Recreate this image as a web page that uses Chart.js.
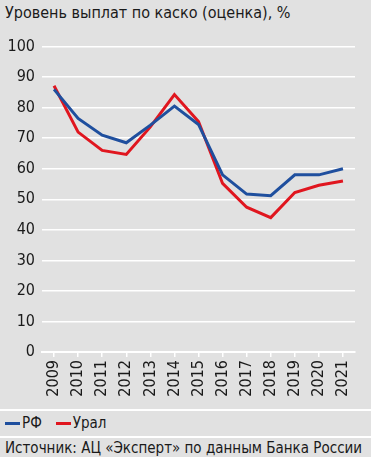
<!DOCTYPE html>
<html>
<head>
<meta charset="utf-8">
<script src="https://cdn.jsdelivr.net/npm/chart.js@4"></script>
<style>
  html, body { margin: 0; padding: 0; }
  body {
    width: 371px; height: 457px; overflow: hidden;
    background: #e1e1e1;
    font-family: 'Liberation Sans Narrow', 'DejaVu Sans Condensed', 'Roboto', sans-serif;
    color: #1a1a1a;
  }
  #title { position: absolute; left: 5px; top: 3px; font-size: 16px; }
  #wrap { position: absolute; left: 0; top: 30px; width: 371px; height: 378px; }
  .sep { position: absolute; left: 0; width: 371px; height: 2px; background: #fff; }
  #legend { position: absolute; left: 5px; top: 414px; font-size: 15px; display: flex; align-items: center; }
  .key { display: inline-block; width: 15px; height: 3px; margin-right: 2px; }
  #source { position: absolute; left: 5px; top: 439px; font-size: 15px; }
</style>
</head>
<body>
<div id="title">Уровень выплат по каско (оценка), %</div>
<div id="wrap"><canvas id="chart"></canvas></div>
<div class="sep" style="top:409px"></div>
<div id="legend">
  <span class="key" style="background:#1f4f9e"></span>РФ
  <span class="key" style="background:#e0161f; margin-left:14px"></span>Урал
</div>
<div class="sep" style="top:436px"></div>
<div id="source">Источник: АЦ «Эксперт» по данным Банка России</div>
<script>
// --- Data ---
const years = ['2009', '2010', '2011', '2012', '2013', '2014', '2015', '2016', '2017', '2018', '2019', '2020', '2021'];
const rfValues = [86, 76.5, 71, 68.5, 74.3, 80.5, 74.5, 58, 51.7, 51.2, 58, 58, 60];
const uralValues = [87.2, 72, 66, 64.7, 73.7, 84.3, 75.5, 55.2, 47.4, 44, 52.2, 54.6, 56];
const yTicks = [0, 10, 20, 30, 40, 50, 60, 70, 80, 90, 100];

const fontFamily = "'Liberation Sans Narrow', 'DejaVu Sans Condensed', 'Roboto', sans-serif";

const ctx = document.getElementById('chart').getContext('2d');
new Chart(ctx, {
    type: 'line',
    data: {
        labels: years,
        datasets: [
            {
                label: 'РФ',
                data: rfValues,
                borderColor: '#1f4f9e',
                borderWidth: 3,
                pointRadius: 0,
                tension: 0
            },
            {
                label: 'Урал',
                data: uralValues,
                borderColor: '#e0161f',
                borderWidth: 3,
                pointRadius: 0,
                tension: 0
            }
        ]
    },
    options: {
        responsive: true,
        maintainAspectRatio: false,
        animation: false,
        layout: { padding: { top: 5, right: 16, left: 0, bottom: 0 } },
        plugins: {
            legend: { display: false },
            tooltip: { enabled: false }
        },
        scales: {
            x: {
                offset: true,
                afterFit: (scale) => { scale.height = 56; },
                grid: {
                    drawOnChartArea: false,
                    color: '#ffffff',
                    lineWidth: 1.5,
                    tickLength: 5
                },
                border: { color: '#ffffff', width: 2 },
                ticks: {
                    color: '#1a1a1a',
                    font: { family: fontFamily, size: 16 },
                    maxRotation: 90,
                    minRotation: 90,
                    padding: 3
                }
            },
            y: {
                min: 0,
                max: 100,
                afterBuildTicks: (scale) => { scale.ticks = yTicks.map(v => ({ value: v })); },
                afterFit: (scale) => { scale.width = 42; },
                grid: {
                    color: '#ffffff',
                    lineWidth: 1.5,
                    drawTicks: false
                },
                border: { display: false },
                ticks: {
                    color: '#1a1a1a',
                    font: { family: fontFamily, size: 16 },
                    padding: 7
                }
            }
        }
    }
});
</script>
</body>
</html>
